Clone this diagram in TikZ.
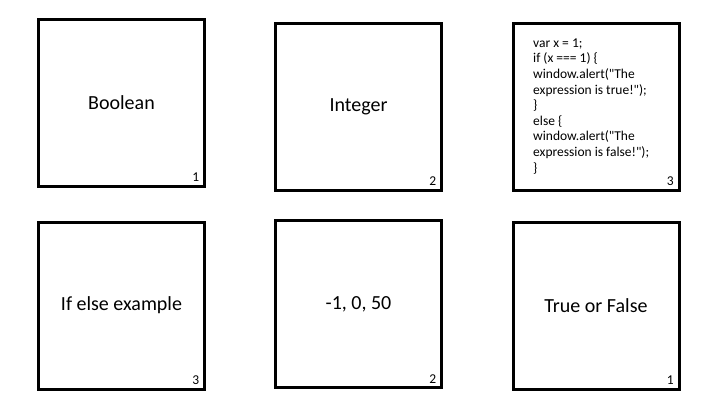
\documentclass[tikz,border=0pt]{standalone}
\usepackage{fontspec}
\setmainfont{Carlito}
\newfontfamily\codefont{Carlito}[Ligatures=ResetAll]
\begin{document}
\begin{tikzpicture}[x=1pt,y=-1pt,
  card/.style={draw=black,line width=3pt,minimum width=166pt,minimum height=167pt,inner sep=0pt,fill=white},
  lbl/.style={font=\fontsize{20}{24}\selectfont,inner sep=0pt},
  num/.style={font=\fontsize{13.5}{15}\selectfont,inner sep=0pt,anchor=base east},
  code/.style={font=\codefont\fontsize{13.5}{15.6}\selectfont,inner sep=0pt,align=left,anchor=north west}]
\useasboundingbox[fill=white] (0,0) rectangle (720,405);
\node[card] (b1) at (121.5,102.5) {};
\node[card] (b2) at (358.5,106.5) {};
\node[card] (b3) at (596,106.5) {};
\node[card] (b4) at (121.5,305.5) {};
\node[card] (b5) at (358.5,304) {};
\node[card] (b6) at (596,305.5) {};
\node[lbl] (l1) at (b1) {Boolean};
\node[lbl] (l2) at (b2) {Integer};
\node[code] (l3) at (533,38.5) {var x = 1;\\if (x === 1) \{\\window.alert("The\\expression is true!");\\\}\\else \{\\window.alert("The\\expression is false!");\\\}};
\node[lbl] (l4) at (b4) {If else example};
\node[lbl] (l5) at (b5) {-1, 0, 50};
\node[lbl] (l6) at (b6) {True or False};
\node[num] (n1) at ([xshift=-6.5pt,yshift=6pt]b1.south east) {1};
\node[num] (n2) at ([xshift=-6.5pt,yshift=6pt]b2.south east) {2};
\node[num] (n3) at ([xshift=-6.5pt,yshift=6pt]b3.south east) {3};
\node[num] (n4) at ([xshift=-6.5pt,yshift=6pt]b4.south east) {3};
\node[num] (n5) at ([xshift=-6.5pt,yshift=6pt]b5.south east) {2};
\node[num] (n6) at ([xshift=-6.5pt,yshift=6pt]b6.south east) {1};
\end{tikzpicture}
\end{document}
